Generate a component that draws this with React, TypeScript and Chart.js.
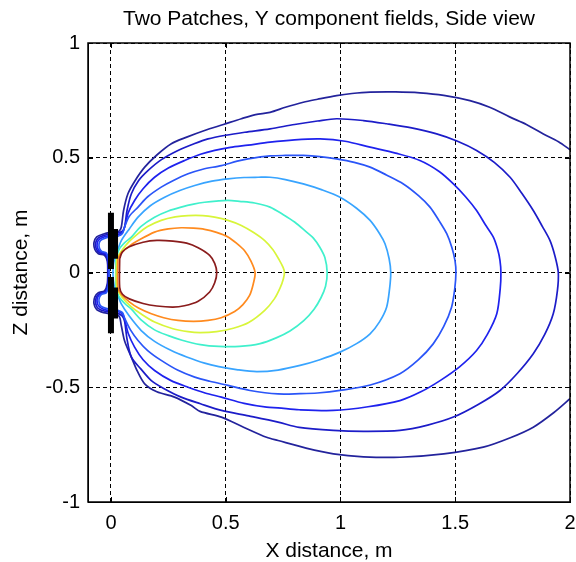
import { useEffect, useRef } from 'react';
import { Chart, registerables } from 'chart.js';

Chart.register(...registerables);

type Pt = [number, number];

const titleText = 'Two Patches, Y component fields, Side view';
const xAxisTitle = 'X distance, m';
const yAxisTitle = 'Z distance, m';

const xTickValues = [0, 0.5, 1, 1.5, 2];
const xTickLabels = ['0', '0.5', '1', '1.5', '2'];
const yTickValues = [-1, -0.5, 0, 0.5, 1];
const yTickLabels = ['-1', '-0.5', '0', '0.5', '1'];
const xRange = [-0.1, 2];
const yRange = [-1, 1];

// contour levels, innermost (strongest field) to outermost
const level1: Pt[] = [[0.038,0.06],[0.05,0.09],[0.08,0.112],[0.14,0.132],[0.2,0.14],[0.27,0.137],[0.33,0.128],[0.38,0.108],[0.43,0.075],[0.452,0.04],[0.461,0.0],[0.452,-0.045],[0.43,-0.085],[0.38,-0.125],[0.32,-0.145],[0.27,-0.151],[0.2,-0.146],[0.14,-0.135],[0.08,-0.115],[0.05,-0.095],[0.038,-0.065],[0.038,0.06]];

const level2: Pt[] = [[0.03,0.06],[0.045,0.085],[0.08,0.115],[0.118,0.139],[0.19,0.176],[0.25,0.19],[0.306,0.195],[0.36,0.193],[0.408,0.188],[0.46,0.175],[0.51,0.155],[0.55,0.125],[0.583,0.094],[0.61,0.05],[0.628,0.0],[0.62,-0.05],[0.604,-0.1],[0.575,-0.14],[0.539,-0.17],[0.48,-0.197],[0.423,-0.209],[0.36,-0.213],[0.292,-0.209],[0.23,-0.197],[0.176,-0.18],[0.12,-0.155],[0.08,-0.128],[0.045,-0.095],[0.03,-0.065],[0.03,0.06]];

const level3: Pt[] = [[0.025,0.06],[0.04,0.085],[0.07,0.125],[0.118,0.169],[0.16,0.2],[0.219,0.227],[0.28,0.242],[0.336,0.248],[0.4,0.248],[0.452,0.241],[0.51,0.227],[0.568,0.205],[0.62,0.175],[0.67,0.139],[0.705,0.1],[0.733,0.055],[0.75,0.022],[0.756,0.0],[0.751,-0.028],[0.738,-0.065],[0.712,-0.115],[0.67,-0.165],[0.6,-0.218],[0.533,-0.243],[0.46,-0.258],[0.388,-0.262],[0.336,-0.258],[0.27,-0.245],[0.19,-0.216],[0.13,-0.18],[0.089,-0.15],[0.05,-0.11],[0.025,-0.065],[0.025,0.06]];

const level4: Pt[] = [[0.022,0.06],[0.035,0.1],[0.06,0.13],[0.089,0.154],[0.13,0.2],[0.19,0.241],[0.25,0.268],[0.306,0.285],[0.36,0.298],[0.408,0.306],[0.47,0.312],[0.51,0.314],[0.56,0.31],[0.626,0.303],[0.693,0.285],[0.751,0.252],[0.8,0.22],[0.85,0.178],[0.882,0.15],[0.91,0.11],[0.932,0.065],[0.942,0.0],[0.935,-0.06],[0.915,-0.11],[0.885,-0.16],[0.84,-0.21],[0.78,-0.255],[0.72,-0.285],[0.65,-0.31],[0.56,-0.322],[0.47,-0.322],[0.39,-0.314],[0.31,-0.295],[0.25,-0.275],[0.19,-0.25],[0.13,-0.205],[0.089,-0.16],[0.06,-0.135],[0.035,-0.105],[0.022,-0.065],[0.022,0.06]];

const level5: Pt[] = [[0.02,0.08],[0.03,0.1],[0.045,0.139],[0.08,0.19],[0.118,0.241],[0.17,0.29],[0.234,0.328],[0.3,0.357],[0.365,0.379],[0.44,0.398],[0.51,0.408],[0.58,0.414],[0.641,0.415],[0.693,0.415],[0.76,0.405],[0.838,0.386],[0.92,0.36],[0.998,0.328],[1.07,0.28],[1.129,0.227],[1.17,0.17],[1.194,0.125],[1.212,0.06],[1.219,0.0],[1.214,-0.07],[1.201,-0.151],[1.17,-0.215],[1.129,-0.267],[1.07,-0.31],[0.998,-0.347],[0.91,-0.38],[0.824,-0.405],[0.728,-0.425],[0.635,-0.432],[0.553,-0.424],[0.47,-0.41],[0.408,-0.395],[0.33,-0.368],[0.263,-0.34],[0.19,-0.3],[0.132,-0.253],[0.08,-0.19],[0.045,-0.137],[0.03,-0.1],[0.02,-0.08],[0.01,-0.03],[0.01,0.03],[0.02,0.08]];

const level6: Pt[] = [[-0.008,0.0],[-0.01,0.05],[-0.02,0.085],[-0.04,0.092],[-0.05,0.105],[-0.052,0.125],[-0.045,0.14],[-0.025,0.15],[0.0,0.155],[0.03,0.158],[0.05,0.17],[0.06,0.2],[0.08,0.245],[0.118,0.285],[0.16,0.33],[0.219,0.372],[0.27,0.4],[0.336,0.43],[0.4,0.45],[0.481,0.466],[0.55,0.485],[0.597,0.495],[0.693,0.508],[0.76,0.51],[0.838,0.51],[0.91,0.505],[0.983,0.495],[1.06,0.48],[1.129,0.459],[1.2,0.425],[1.274,0.386],[1.34,0.335],[1.39,0.285],[1.43,0.225],[1.463,0.169],[1.485,0.11],[1.499,0.052],[1.503,0.0],[1.498,-0.07],[1.484,-0.151],[1.45,-0.235],[1.404,-0.311],[1.34,-0.38],[1.259,-0.441],[1.13,-0.49],[0.998,-0.514],[0.9,-0.525],[0.824,-0.528],[0.728,-0.529],[0.606,-0.514],[0.51,-0.492],[0.43,-0.474],[0.365,-0.456],[0.29,-0.425],[0.219,-0.383],[0.16,-0.34],[0.118,-0.296],[0.085,-0.25],[0.06,-0.2],[0.05,-0.175],[0.03,-0.165],[0.0,-0.16],[-0.025,-0.155],[-0.045,-0.145],[-0.052,-0.128],[-0.05,-0.108],[-0.04,-0.095],[-0.02,-0.088],[-0.01,-0.05],[-0.008,0.0]];

const level7: Pt[] = [[-0.01,0.0],[-0.012,0.05],[-0.022,0.082],[-0.045,0.09],[-0.058,0.105],[-0.06,0.128],[-0.05,0.145],[-0.028,0.156],[0.0,0.162],[0.03,0.165],[0.05,0.175],[0.06,0.2],[0.075,0.26],[0.103,0.314],[0.14,0.365],[0.19,0.415],[0.25,0.455],[0.321,0.488],[0.39,0.515],[0.452,0.532],[0.52,0.545],[0.597,0.555],[0.693,0.568],[0.8,0.578],[0.911,0.582],[1.02,0.572],[1.129,0.546],[1.24,0.52],[1.346,0.488],[1.43,0.44],[1.492,0.386],[1.545,0.33],[1.593,0.27],[1.63,0.21],[1.666,0.154],[1.685,0.1],[1.695,0.052],[1.699,0.0],[1.696,-0.07],[1.681,-0.18],[1.64,-0.27],[1.593,-0.34],[1.52,-0.41],[1.434,-0.471],[1.35,-0.52],[1.259,-0.558],[1.12,-0.585],[0.969,-0.601],[0.82,-0.598],[0.728,-0.59],[0.678,-0.587],[0.58,-0.57],[0.481,-0.543],[0.41,-0.525],[0.336,-0.5],[0.26,-0.47],[0.19,-0.427],[0.14,-0.38],[0.103,-0.325],[0.075,-0.265],[0.06,-0.205],[0.05,-0.18],[0.03,-0.17],[0.0,-0.167],[-0.028,-0.162],[-0.05,-0.15],[-0.06,-0.132],[-0.058,-0.108],[-0.045,-0.093],[-0.022,-0.085],[-0.012,-0.05],[-0.01,0.0]];

const level8: Pt[] = [[-0.012,0.0],[-0.014,0.05],[-0.025,0.078],[-0.05,0.086],[-0.064,0.103],[-0.067,0.128],[-0.056,0.15],[-0.03,0.162],[0.0,0.168],[0.03,0.172],[0.05,0.18],[0.06,0.2],[0.07,0.27],[0.089,0.343],[0.12,0.4],[0.161,0.444],[0.22,0.492],[0.292,0.532],[0.36,0.56],[0.423,0.582],[0.5,0.598],[0.583,0.611],[0.693,0.626],[0.8,0.645],[0.9,0.66],[0.983,0.67],[1.1,0.662],[1.201,0.648],[1.31,0.63],[1.419,0.604],[1.51,0.572],[1.593,0.532],[1.67,0.48],[1.739,0.415],[1.79,0.345],[1.84,0.27],[1.88,0.2],[1.913,0.139],[1.935,0.07],[1.949,0.0],[1.945,-0.08],[1.927,-0.18],[1.89,-0.27],[1.84,-0.354],[1.77,-0.44],[1.695,-0.514],[1.6,-0.575],[1.492,-0.63],[1.38,-0.665],[1.259,-0.688],[1.1,-0.692],[0.969,-0.688],[0.82,-0.675],[0.728,-0.652],[0.6,-0.625],[0.481,-0.601],[0.39,-0.572],[0.306,-0.543],[0.23,-0.505],[0.176,-0.471],[0.13,-0.42],[0.089,-0.369],[0.07,-0.29],[0.06,-0.215],[0.05,-0.19],[0.03,-0.178],[0.0,-0.173],[-0.03,-0.168],[-0.056,-0.156],[-0.067,-0.134],[-0.064,-0.109],[-0.05,-0.092],[-0.025,-0.084],[-0.014,-0.05],[-0.012,0.0]];

const level9: Pt[] = [[2.0,0.535],[1.95,0.57],[1.884,0.604],[1.81,0.645],[1.739,0.677],[1.65,0.72],[1.564,0.749],[1.45,0.772],[1.346,0.783],[1.24,0.787],[1.129,0.786],[1.05,0.78],[0.983,0.771],[0.9,0.755],[0.838,0.742],[0.76,0.72],[0.693,0.698],[0.63,0.688],[0.568,0.67],[0.49,0.645],[0.408,0.619],[0.33,0.59],[0.263,0.561],[0.2,0.512],[0.147,0.459],[0.105,0.4],[0.074,0.343],[0.055,0.27],[0.045,0.197],[0.035,0.18],[0.0,0.175],[-0.032,0.168],[-0.062,0.155],[-0.074,0.13],[-0.07,0.1],[-0.055,0.082],[-0.028,0.075],[-0.016,0.05],[-0.014,0.0],[-0.016,-0.05],[-0.028,-0.08],[-0.055,-0.088],[-0.07,-0.106],[-0.074,-0.136],[-0.062,-0.162],[-0.032,-0.175],[0.0,-0.18],[0.035,-0.19],[0.045,-0.231],[0.06,-0.3],[0.089,-0.369],[0.115,-0.43],[0.147,-0.485],[0.2,-0.52],[0.277,-0.543],[0.35,-0.58],[0.388,-0.605],[0.481,-0.63],[0.58,-0.675],[0.678,-0.718],[0.728,-0.732],[0.85,-0.765],[0.969,-0.79],[1.1,-0.803],[1.259,-0.805],[1.45,-0.79],[1.622,-0.761],[1.74,-0.72],[1.84,-0.674],[1.93,-0.61],[2.0,-0.55]];

const contourLevels: Pt[][] = [level1, level2, level3, level4, level5, level6, level7, level8, level9];
const contourColors = ['#8a1c1c', '#ff8a1e', '#d8f53a', '#40f0cc', '#38a4ff', '#2a55f8', '#1e22ee', '#1c1cc8', '#23239c'];

// the two patches (thick black segments)
const patchA_upper: Pt[] = [[0, 0.26], [0, 0.015]];
const patchA_lower: Pt[] = [[0, -0.02], [0, -0.265]];
const patchB_upper: Pt[] = [[0.02, 0.19], [0.02, 0.06]];
const patchB_lower: Pt[] = [[0.02, -0.065], [0.02, -0.2]];

const FONT = "'Liberation Sans', Arial, Helvetica, sans-serif";

const toXY = (pts: Pt[]) => pts.map(([x, y]) => ({ x, y }));

const frameTicks = {
  id: 'frameTicks',
  afterDraw(chart: any) {
    const { ctx, chartArea, scales } = chart;
    const { left, right, top, bottom } = chartArea;
    const xs = scales.x;
    const ys = scales.y;
    ctx.save();
    ctx.setLineDash([]);
    ctx.strokeStyle = '#000';
    ctx.lineWidth = 1;
    ctx.beginPath();
    for (const v of xTickValues) {
      const px = Math.round(xs.getPixelForValue(v)) + 0.5;
      ctx.moveTo(px, bottom); ctx.lineTo(px, bottom - 5);
      ctx.moveTo(px, top); ctx.lineTo(px, top + 5);
    }
    for (const v of yTickValues) {
      const py = Math.round(ys.getPixelForValue(v)) + 0.5;
      ctx.moveTo(left, py); ctx.lineTo(left + 5, py);
      ctx.moveTo(right, py); ctx.lineTo(right - 5, py);
    }
    ctx.stroke();
    ctx.lineWidth = 1.5;
    ctx.strokeRect(left, top, right - left, bottom - top);
    ctx.restore();
  },
};

export default function App() {
  const ref = useRef<HTMLCanvasElement>(null);
  useEffect(() => {
    const canvas = ref.current;
    if (!canvas) return;
    const contourSets = contourLevels.map((pts, i) => ({
      label: `level ${i + 1}`,
      data: toXY(pts),
      showLine: true,
      borderColor: contourColors[i],
      backgroundColor: contourColors[i],
      borderWidth: 1.7,
      pointRadius: 0,
      pointHoverRadius: 0,
      tension: 0.3,
      fill: false,
      order: 1,
    }));
    const patchSets = [patchA_upper, patchA_lower, patchB_upper, patchB_lower].map((pts, i) => ({
      label: `patch ${i + 1}`,
      data: toXY(pts),
      showLine: true,
      borderColor: '#000',
      backgroundColor: '#000',
      borderWidth: i < 2 ? 6 : 5,
      pointRadius: 0,
      pointHoverRadius: 0,
      fill: false,
      order: 0,
    }));
    const chart = new Chart(canvas, {
      type: 'scatter',
      data: { datasets: [...patchSets, ...contourSets] as any },
      options: {
        animation: false,
        responsive: false,
        maintainAspectRatio: false,
        events: [],
        layout: { padding: { left: 0, right: 6, top: 0, bottom: 0 } },
        plugins: {
          legend: { display: false },
          tooltip: { enabled: false },
          title: {
            display: true,
            text: titleText,
            color: '#000',
            fullSize: false,
            font: { family: FONT, size: 21, weight: 'normal', lineHeight: 1.2 },
            padding: { top: 6.8, bottom: 11 },
          },
        },
        scales: {
          x: {
            type: 'linear',
            min: xRange[0],
            max: xRange[1],
            afterBuildTicks: (s: any) => { s.ticks = xTickValues.map((v) => ({ value: v })); },
            afterFit: (s: any) => { s.height = 60; s.paddingLeft = 0; s.paddingRight = 0; },
            ticks: {
              color: '#000',
              font: { family: FONT, size: 20 },
              padding: 9,
              autoSkip: false,
              maxRotation: 0,
              callback: (_v: any, i: number) => xTickLabels[i],
            },
            grid: { color: '#000', lineWidth: 1, drawTicks: false },
            border: { display: true, color: '#000', width: 1, dash: [4, 3] },
            title: {
              display: true,
              text: xAxisTitle,
              color: '#000',
              font: { family: FONT, size: 21, lineHeight: 1 },
              padding: { top: 0, bottom: 0.5 },
            },
          },
          y: {
            type: 'linear',
            min: yRange[0],
            max: yRange[1],
            afterBuildTicks: (s: any) => { s.ticks = yTickValues.map((v) => ({ value: v })); },
            afterFit: (s: any) => { s.width = 88; s.paddingTop = 0; s.paddingBottom = 0; },
            ticks: {
              color: '#000',
              font: { family: FONT, size: 20 },
              padding: 8,
              autoSkip: false,
              callback: (_v: any, i: number) => yTickLabels[i],
            },
            grid: { color: '#000', lineWidth: 1, drawTicks: false },
            border: { display: true, color: '#000', width: 1, dash: [4, 3] },
            title: {
              display: true,
              text: yAxisTitle,
              color: '#000',
              font: { family: FONT, size: 21, lineHeight: 1.2 },
              padding: { top: 8.4, bottom: 0 },
            },
          },
        },
      },
      plugins: [frameTicks],
    });
    return () => chart.destroy();
  }, []);
  return (
    <div style={{ position: 'absolute', left: 0, top: 0, width: 576, height: 562, background: '#fff' }}>
      <canvas ref={ref} width={576} height={562} style={{ display: 'block', width: 576, height: 562 }} />
    </div>
  );
}
